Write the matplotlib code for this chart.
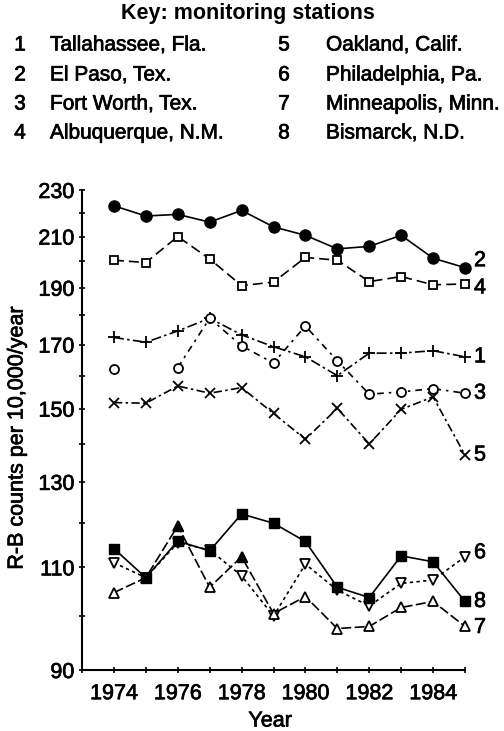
import numpy as np
import matplotlib
matplotlib.use("Agg")
import matplotlib.pyplot as plt
import matplotlib.patheffects as pe
from matplotlib.ticker import FixedLocator, NullFormatter, FixedFormatter

plt.rcParams['font.family'] = ['Liberation Sans', 'DejaVu Sans']

years = list(range(1974, 1986))
nan = np.nan
s1 = [172.4, 170.8, 174.6, 179.0, 173.3, 169.3, 166.0, 160.0, 167.2, 167.2, 168.0, 166.0]
s2 = [223.0, 218.6, 219.3, 216.0, 221.0, 214.0, 210.5, 205.0, 206.0, 210.5, 201.3, 197.6]
s3 = [162.0, nan, 162.5, 179.0, 169.6, 164.0, 176.3, 164.7, 154.3, 155.0, 156.0, 154.6]
s4 = [200.5, 199.6, 210.0, 201.0, 190.8, 192.1, 201.6, 200.5, 192.3, 194.2, 191.1, 191.4]
s5 = [151.8, 151.6, 156.8, 154.6, 156.3, 148.6, 141.3, 150.1, 140.0, 149.8, 153.5, 137.0]
s6 = [111.0, 107.8, 115.4, 113.8, 108.2, 100.0, 110.7, 105.2, 102.0, 106.6, 107.3, 112.3]
s7 = [104.7, 107.8, 119.3, 105.8, 112.3, 100.5, 103.9, 97.6, 98.0, 101.7, 102.9, 98.0]
s8 = [114.1, 107.8, 115.8, 113.6, 122.1, 119.9, 115.7, 105.8, 103.7, 112.5, 111.2, 102.9]
# points of station 7 printed with a filled triangle in the original
s7_filled = [False, False, True, False, True, False, False, False, False, False, False, False]

station_nums = ['1', '2', '3', '4', '5', '6', '7', '8']
station_names = ['Tallahassee, Fla.', 'El Paso, Tex.', 'Fort Worth, Tex.', 'Albuquerque, N.M.',
                 'Oakland, Calif.', 'Philadelphia, Pa.', 'Minneapolis, Minn.', 'Bismarck, N.D.']

y_major = [90, 110, 130, 150, 170, 190, 210, 230]
y_minor = [100, 120, 140, 160, 180, 200, 220]
x_labels = [1974, 1976, 1978, 1980, 1982, 1984]

FS = 15.5
KFS = 15
heavy = [pe.withStroke(linewidth=0.5, foreground='black')]

fig = plt.figure(figsize=(5.04, 7.31), dpi=100)
ax = fig.add_axes([82/504, 1-670/731, (465-82)/504, (670-190)/731])

series = [s1, s2, s3, s4, s5, s6, s7, s8]
styles = [
    dict(marker='+', ms=8, mew=1.3, color='black', ls=(0, (6, 2, 1.5, 2))),
    dict(marker='o', ms=8, mfc='black', color='black', ls='-'),
    dict(marker='o', ms=6.5, mfc='white', mew=1.3, color='black', ls=(0, (4, 3, 1.5, 3))),
    dict(marker='s', ms=6, mfc='white', mew=1.3, color='black', ls=(0, (6, 3))),
    dict(marker='x', ms=7, mew=1.3, color='black', ls=(0, (5, 2, 1.5, 2))),
    dict(marker='v', ms=7, mfc='white', mew=1.3, color='black', ls=(0, (2, 2))),
    dict(marker='^', ms=7, mfc='white', mew=1.3, color='black', ls=(0, (6, 2))),
    dict(marker='s', ms=7, mfc='black', color='black', ls='-'),
]
for s, st in zip(series, styles):
    ax.plot(years, s, lw=1.2, clip_on=False, **st)

fy = [y for y, f in zip(years, s7_filled) if f]
fv = [v for v, f in zip(s7, s7_filled) if f]
ax.plot(fy, fv, ls='none', marker='^', ms=7, color='black', mfc='black', zorder=5)

# right-end labels
offsets = {'1': 0, '2': 7, '3': 0, '4': -4, '5': 0, '6': 4, '7': -1, '8': 0}
for num, s in zip(station_nums, series):
    ax.annotate(num, (years[-1], s[-1]), xytext=(9, offsets[num]), textcoords='offset pixels',
                ha='left', va='center', fontsize=FS, annotation_clip=False, path_effects=heavy)

ax.set_yscale('log')
ax.set_ylim(90, 230)
ax.set_xlim(1973, 1985)
ax.yaxis.set_major_locator(FixedLocator(y_major))
ax.yaxis.set_major_formatter(FixedFormatter([str(v) for v in y_major]))
ax.yaxis.set_minor_locator(FixedLocator(y_minor))
ax.yaxis.set_minor_formatter(NullFormatter())
ax.xaxis.set_major_locator(FixedLocator(x_labels))
ax.xaxis.set_minor_locator(FixedLocator([y for y in range(1973, 1986) if y not in x_labels]))
ax.xaxis.set_minor_formatter(NullFormatter())
ax.set_xticklabels([str(v) for v in x_labels])

for sp in ['top', 'right']:
    ax.spines[sp].set_visible(False)
for sp in ['left', 'bottom']:
    ax.spines[sp].set_linewidth(1.5)
ax.tick_params(axis='both', which='both', direction='inout', length=5, width=1.2, labelsize=FS)
ax.tick_params(axis='x', pad=7)
ax.tick_params(axis='y', pad=3)
for lab in ax.get_xticklabels() + ax.get_yticklabels():
    lab.set_path_effects(heavy)

fig.text(17/504, 1-438/731, 'R-B counts per 10,000/year', rotation=90, ha='center', va='center',
         fontsize=FS, path_effects=heavy)
fig.text(270/504, 1-721/731, 'Year', ha='center', va='center', fontsize=FS, path_effects=heavy)

# key
fig.text(248/504, 1-14/731, 'Key: monitoring stations', ha='center', va='center', fontsize=15.5,
         fontweight='bold')
rows_y = [45, 75, 104, 133]
for i in range(4):
    fig.text(20/504, 1-rows_y[i]/731, station_nums[i], ha='center', va='center', fontsize=KFS, path_effects=heavy)
    fig.text(50/504, 1-rows_y[i]/731, station_names[i], ha='left', va='center', fontsize=KFS, path_effects=heavy)
    fig.text(284/504, 1-rows_y[i]/731, station_nums[i+4], ha='center', va='center', fontsize=KFS, path_effects=heavy)
    fig.text(326/504, 1-rows_y[i]/731, station_names[i+4], ha='left', va='center', fontsize=KFS, path_effects=heavy)

fig.savefig('out.png', dpi=100)
